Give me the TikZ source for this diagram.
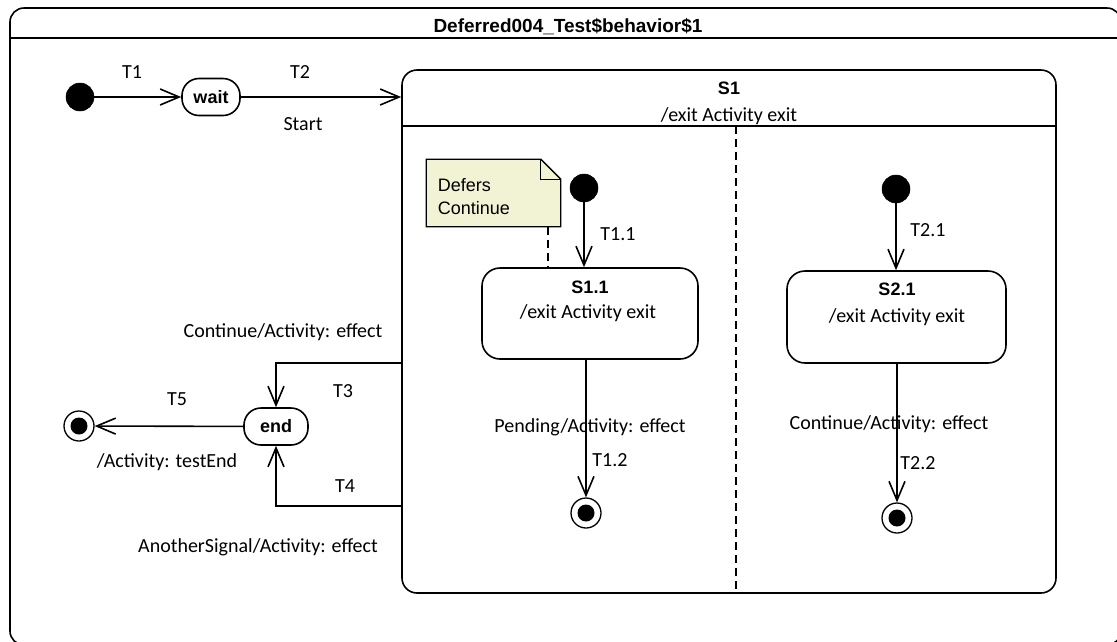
\documentclass[tikz,border=0pt]{standalone}
\usepackage{fontspec}
\setmainfont{Carlito}
\newfontfamily\arialfont{Liberation Sans}
\usetikzlibrary{positioning, arrows.meta, calc}
\definecolor{notefill}{RGB}{242,242,212}

\begin{document}
\begin{tikzpicture}[x=1pt, y=-1pt, line width=1.6pt,
  font=\fontsize{20}{24}\selectfont,
  >={Straight Barb[length=19pt, width=16pt]},
  initdot/.style={circle, fill=black, draw=black, line width=0.5pt, minimum size=28pt, inner sep=0pt},
  finaldot/.style={circle, draw=black, line width=1.3pt, minimum size=30pt, inner sep=0pt,
    path picture={\fill[black] (path picture bounding box.center) circle (8.5pt);}},
  pill/.style={draw, rounded corners=17pt, inner sep=0pt, font=\arialfont\bfseries\fontsize{18}{22}\selectfont},
  statebox/.style={draw, rounded corners=18pt, inner sep=0pt},
  bname/.style={font=\arialfont\bfseries\fontsize{18}{22}\selectfont, inner sep=0pt, anchor=base},
  lbl/.style={inner sep=0pt, anchor=base},
  notetxt/.style={inner sep=0pt, anchor=base west, font=\arialfont\fontsize{18}{22}\selectfont}
]
\useasboundingbox (0,0) rectangle (1117,641);
\clip (0,0) rectangle (1117,641);

% Frame
\draw[rounded corners=14pt] (10,8) rectangle (1121,645);
\draw (10,38) -- (1121,38);
\node[bname, font=\arialfont\bfseries\fontsize{19}{23}\selectfont] (title) at (568,32.5) {Deferred004\_Test\$behavior\$1};

% Top level
\node[initdot] (init) at (80,97) {};
\node[pill, minimum width=58pt, minimum height=37pt] (wait) at (211,97) {wait};
\node[statebox, rounded corners=15pt, minimum width=654pt, minimum height=523pt] (s1) at (729,331.5) {};
\draw (402,126) -- (1056,126);
\node[bname] (s1name) at (729,94) {S1};
\node[lbl] (s1exit) at (729,121) {/exit Activity exit};
\draw[dashed, dash pattern=on 8pt off 5pt, line width=1.3pt] (736,126) -- (736,593);

\draw[->] (init) -- (wait);
\node[lbl] (t1) at (132,78) {T1};
\draw[->] (wait.east) -- (wait.east -| s1.west);
\node[lbl] (t2) at (300,78) {T2};
\node[lbl] (start) at (303,130) {Start};

% Region 1
\node[inner sep=0pt, minimum width=133pt, minimum height=66pt] (note) at (493.5,193) {};
\draw[fill=notefill, line width=1.3pt] (note.north west) -- ([xshift=-20pt]note.north east)
  -- ([yshift=-20pt]note.north east) -- (note.south east) -- (note.south west) -- cycle;
\draw[line width=1.3pt] ([xshift=-20pt]note.north east) -- ([xshift=-20pt, yshift=-20pt]note.north east)
  -- ([yshift=-20pt]note.north east);
\node[notetxt] (defers) at (437,191) {Defers};
\node[notetxt] (defcont) at (437,214) {Continue};

\node[initdot] (init1) at (584,188) {};
\node[statebox, minimum width=216pt, minimum height=91pt] (s11) at (590,313.5) {};
\node[bname] (s11name) at (590,293) {S1.1};
\node[lbl] (s11exit) at (588,318) {/exit Activity exit};
\draw[dashed, dash pattern=on 8pt off 5pt, line width=1.5pt] ([xshift=-13pt]note.south east) -- ([xshift=-13pt]note.south east |- s11.north);
\draw[->] (init1) -- (init1 |- s11.north);
\node[lbl] (t11) at (618,240) {T1.1};

\node[finaldot] (fin1) at (586,513) {};
\draw[->] (fin1 |- s11.south) -- (fin1);
\node[lbl] (pend) at (590,432) {Pending/Activity: effect};
\node[lbl] (t12) at (610,466) {T1.2};

% Region 2
\node[initdot] (init2) at (896,189) {};
\node[statebox, minimum width=219pt, minimum height=92pt] (s21) at (896.5,317) {};
\node[bname] (s21name) at (897,295) {S2.1};
\node[lbl] (s21exit) at (897,322) {/exit Activity exit};
\draw[->] (init2) -- (init2 |- s21.north);
\node[lbl] (t21) at (928,236) {T2.1};

\node[finaldot] (fin2) at (897,518) {};
\draw[->] (fin2 |- s21.south) -- (fin2);
\node[lbl] (cont2) at (889,429) {Continue/Activity: effect};
\node[lbl] (t22) at (918,469) {T2.2};

% Left side
\node[pill, minimum width=64pt, minimum height=37pt] (end) at (276,426.5) {end};
\node[finaldot] (fin0) at (79,426) {};
\draw[->] (end) -- (fin0);
\node[lbl] (t5) at (177,405) {T5};
\node[lbl] (testend) at (167,467) {/Activity: testEnd};

\coordinate (t3a) at (402,363);
\coordinate (t4a) at (402,506);
\draw[->] (t3a) -| (end.north);
\draw[->] (t4a) -| (end.south);
\node[lbl] (cont1) at (283,337) {Continue/Activity: effect};
\node[lbl] (t3) at (343,397) {T3};
\node[lbl] (t4) at (345,492) {T4};
\node[lbl] (another) at (258,552) {AnotherSignal/Activity: effect};
\end{tikzpicture}
\end{document}
